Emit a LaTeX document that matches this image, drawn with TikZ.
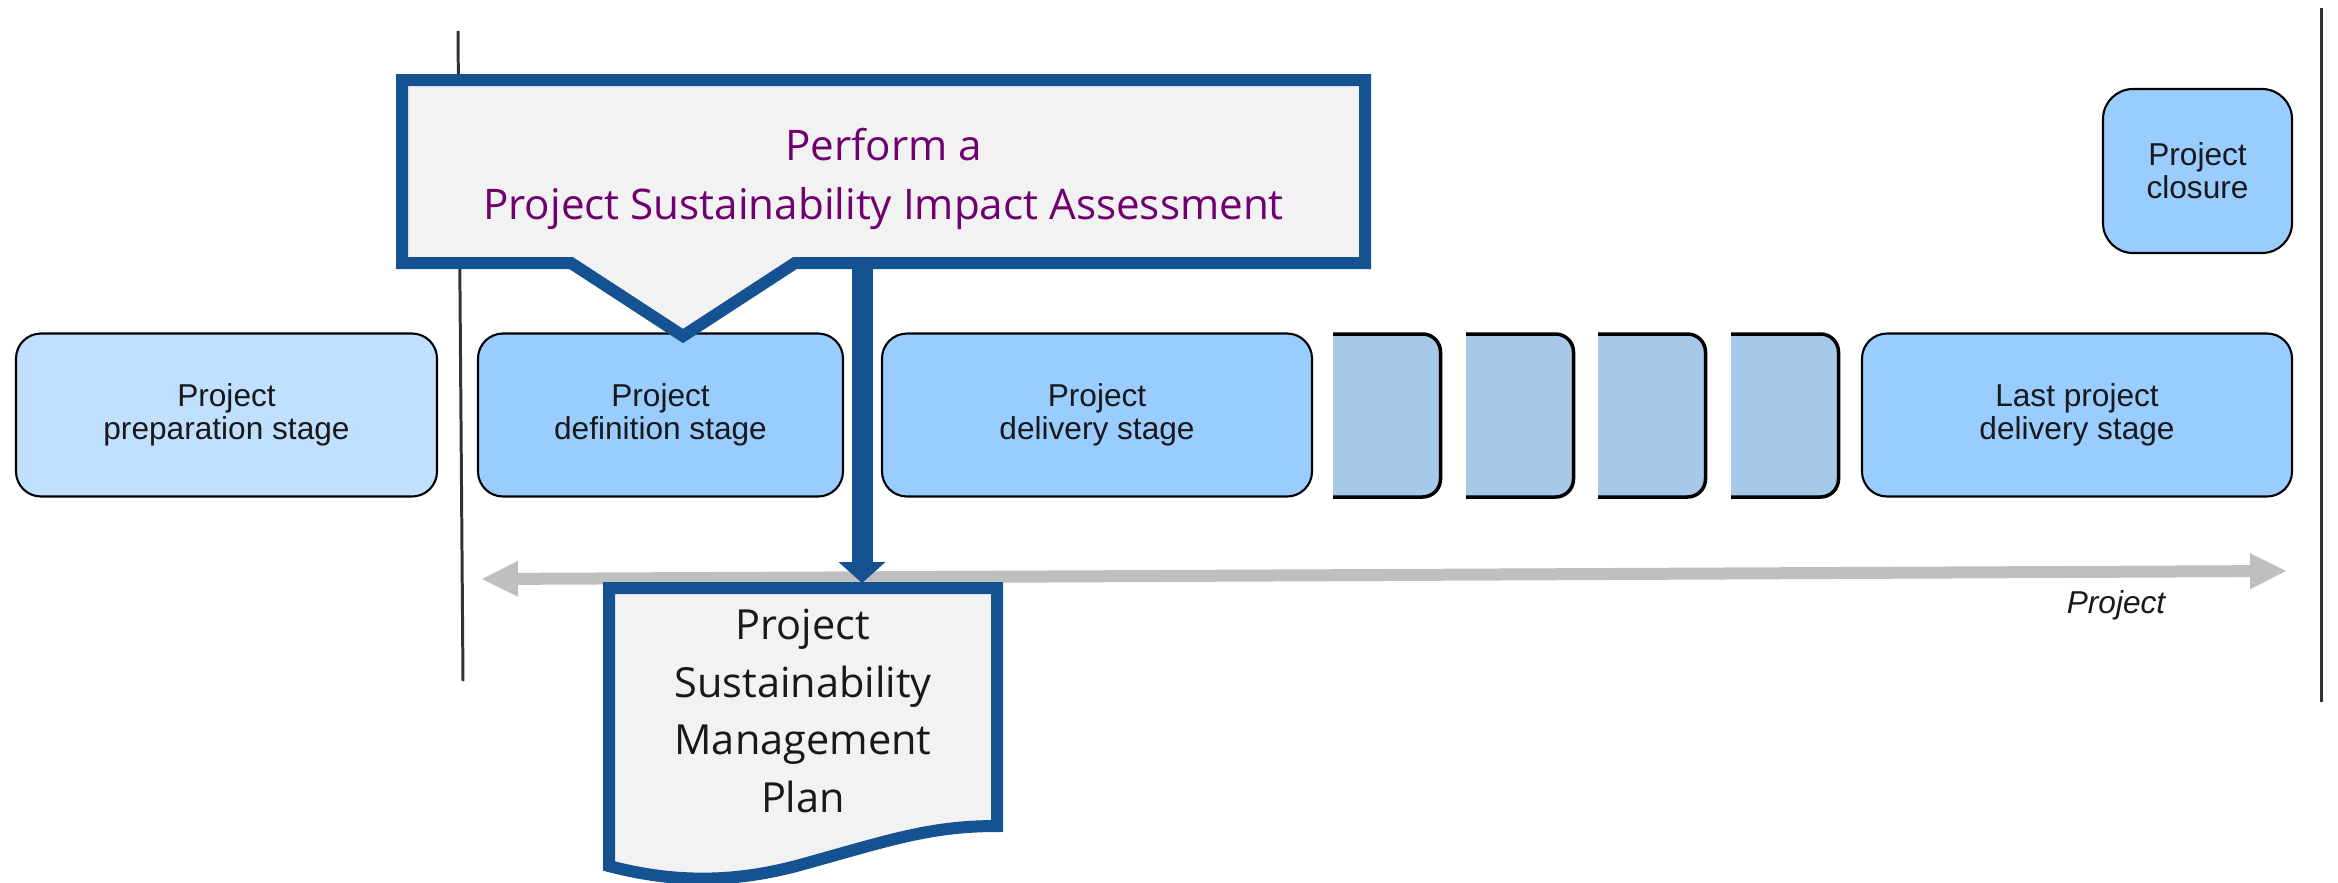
\documentclass[tikz,border=0pt]{standalone}
\usepackage{fontspec}
\setmainfont{Liberation Sans}
\newfontfamily\opensans{Open Sans}
\usetikzlibrary{arrows.meta}

\definecolor{planblue}{RGB}{20,82,145}
\definecolor{assesspurple}{RGB}{112,0,112}
\definecolor{stagefill}{RGB}{153,204,255}
\definecolor{prepfill}{RGB}{192,224,255}
\definecolor{repeatfill}{RGB}{166,201,234}
\definecolor{notegray}{RGB}{242,242,242}
\definecolor{axisgray}{RGB}{191,191,191}

\begin{document}
\begin{tikzpicture}[
        stage/.style={draw, line width=0.6pt, rounded corners=0.25cm, fill=stagefill,
            minimum height=1.63cm, align=center, inner sep=0pt, text=black!90,
            font=\fontsize{9}{9.4}\selectfont},
        repeatbox/.style={draw, fill=repeatfill, line width=1pt, rounded corners=0.18cm},
        bluebox/.style={draw=planblue, fill=notegray, line width=0.12cm, line join=miter},
        phaseline/.style={draw=black!80, line width=0.85pt}
    ]
        \useasboundingbox (0,0) rectangle (23.38,8.82);

        % Phase borders
        \draw[phaseline] (4.58,8.51) -- (4.63,2.01);
        \draw[phaseline] (23.21,8.74) -- (23.21,1.80);

        % Project stages
        \node[stage, fill=prepfill, minimum width=4.21cm] (prep) at (2.265,4.67) {Project\\preparation stage};
        \node[stage, minimum width=3.65cm] (definition) at (6.605,4.67) {Project\\definition stage};
        \node[stage, minimum width=4.30cm] (delivery) at (10.97,4.67) {Project\\delivery stage};
        \node[stage, minimum width=4.30cm] (last) at (20.77,4.67) {Last project\\delivery stage};
        \node[stage, minimum width=1.89cm, minimum height=1.64cm, rounded corners=0.3cm] (closure) at (21.975,7.11) {Project\\closure};

        % Repeated delivery stages
        \foreach \x in {13.33,14.66,15.98,17.31} {
            \draw[repeatbox] (\x,5.48) -- (\x+1.075,5.48) -- (\x+1.075,3.85) -- (\x,3.85);
        }

        % Project timeline
        \coordinate (tstart) at (4.82,3.03);
        \coordinate (tend) at (22.86,3.11);
        \draw[axisgray, line width=0.12cm,
            {Triangle[width=0.36cm,length=0.36cm,line width=0pt]}-{Triangle[width=0.36cm,length=0.36cm,line width=0pt]}]
            (tstart) -- (tend);
        \node[anchor=base, text=black!90, font=\fontsize{9}{9.4}\selectfont\itshape] (timeline) at (21.16,2.69) {Project};

        % Assessment callout
        \draw[bluebox] (4.02,8.02) -- (13.65,8.02) -- (13.65,6.19) -- (7.95,6.19) -- (6.83,5.46)
            -- (5.71,6.19) -- (4.02,6.19) -- cycle;
        \node[text=assesspurple, align=center, font=\opensans\fontsize{12}{16.8}\selectfont] (assess)
            at (8.835,7.03) {Perform a\\Project Sustainability Impact Assessment};

        % Sustainability management plan
        \draw[bluebox] (6.09,0.16) -- (6.09,2.94) -- (9.97,2.94) -- (9.97,0.56)
            .. controls (9.3,0.56) and (8.9,0.42) .. (8.0,0.17)
            .. controls (7.3,-0.02) and (6.7,0.0) .. (6.09,0.16) -- cycle;
        \node[text=black!90, align=center, font=\opensans\fontsize{11.8}{16.4}\selectfont] (plan)
            at (8.03,1.71) {Project\\Sustainability\\Management\\Plan};

        % Assessment leads to the plan
        \coordinate (assessout) at (8.62,6.19);
        \coordinate (plantop) at (8.62,2.99);
        \draw[planblue, line width=0.21cm, -{Triangle[width=0.47cm,length=0.21cm,line width=0pt]}]
            (assessout) -- (plantop);
    \end{tikzpicture}
\end{document}
